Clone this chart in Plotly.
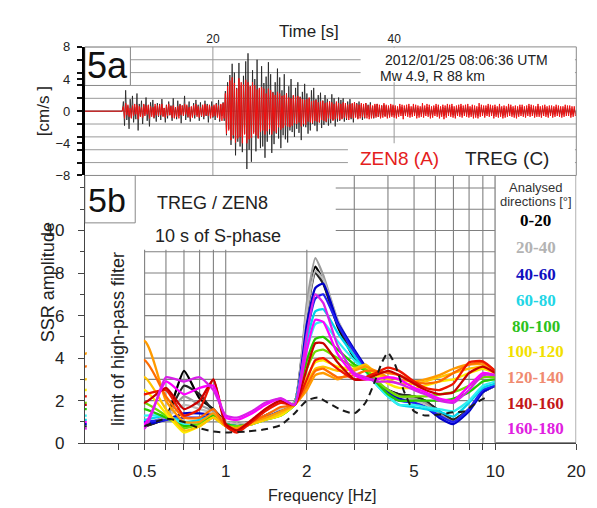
import math
import plotly.graph_objects as go

# ================= DATA =================
# ---- panel 5a : velocity records [cm/s] ----
record_start_s = 5.87
p_onset_s = 10.0
sample_step_s = 0.125

treg_c = [
    0, 1.2, -1.8, 2.6, -1.1, 0.6, -2.2, 1.5, -0.8, 1.9, -1.4, 0.5, -1.0, 2.2, -2.4, 0.9,
    -0.6, 1.3, -1.6, 0.8, -0.4, 1.7, -1.2, 0.7, -1.9, 1.1, -0.5, 1.4, -0.9, 0.6, -1.3, 1.0,
    -0.7, 0.9, -1.1, 1.5, -0.6, 0.4, -1.4, 0.8, -0.9, 1.2, -0.5, 0.7, -1.2, 1.6, -0.8, 0.5,
    -1.0, 1.3, -0.6, 0.9, -1.5, 0.7, -0.4, 1.9, -1.1, 0.6, -0.8, 1.2, -1.3, 0.5, -0.7, 1.0,
    -0.9, 1.4, -0.5, 0.8, -1.2, 1.1, -0.7, 0.6, -1.0, 1.3, -0.6, 0.9, -1.4, 0.7, -0.5, 1.2,
    -0.8, 0.6, -1.1, 1.0, -0.7, 1.4, -1.3, 0.8, -0.6, 1.1, -1.2, 2.5, -3.0, 3.6, -2.2, 4.5,
    -4.2, 5.9, -3.4, 4.8, -5.5, 2.9, -3.8, 6.0, -4.4, 3.2, -5.1, 4.4, -2.8, 6.2, -7.2, 7.2,
    -4.8, 3.1, -6.3, 5.1, -2.6, 4.0, -5.0, 6.4, -3.3, 2.7, -4.6, 5.6, -4.4, 3.5, -5.8, 4.3,
    -3.8, 6.1, -2.9, 4.6, -5.2, 2.4, -4.1, 3.6, -2.8, 5.3, -3.4, 4.2, -4.6, 2.6, -3.0, 4.6,
    -3.5, 2.2, -3.9, 3.1, -2.4, 4.0, -2.6, 1.9, -3.2, 2.9, -2.2, 3.6, -2.7, 1.8, -3.6, 2.4,
    -1.9, 3.4, -2.0, 2.2, -2.8, 1.6, -2.4, 2.6, -1.6, 2.9, -1.8, 1.5, -2.5, 2.0, -1.4, 2.3,
    -2.1, 1.3, -1.7, 2.0, -1.4, 1.5, -1.8, 1.2, -1.5, 2.1, -1.1, 1.6, -1.9, 1.0, -1.3, 1.7,
    -1.2, 1.4, -0.9, 1.6, -1.3, 0.8, -1.1, 1.2, -0.8, 1.5, -1.0, 0.9, -1.4, 1.1, -0.7, 1.0,
    -0.9, 1.2, -0.6, 0.8, -1.1, 0.7, -0.9, 1.0, -0.5, 0.8, -0.7, 1.1, -0.8, 0.6, -0.9, 0.7,
    -0.6, 0.9, -0.7, 0.5, -0.8, 0.7, -0.5, 0.8, -0.6, 0.6, -0.7, 0.5, -0.6, 0.7, -0.5, 0.6,
    -0.5, 0.4, -0.6, 0.3, -0.4, 0.6, -0.3, 0.5, -0.6, 0.4, -0.3, 0.5, -0.4, 0.6, -0.5, 0.3,
    -0.4, 0.6, -0.3, 0.5, -0.6, 0.4, -0.5, 0.3, -0.4, 0.6, -0.5, 0.4, -0.3, 0.5, -0.4, 0.5,
    -0.6, 0.3, -0.5, 0.4, -0.3, 0.6, -0.4, 0.5, -0.6, 0.3, -0.4, 0.5, -0.6, 0.4, -0.5, 0.6,
    -0.3, 0.5, -0.4, 0.6, -0.5, 0.3, -0.6, 0.4, -0.3, 0.5, -0.4, 0.6, -0.5, 0.4, -0.3, 0.5,
    -0.4, 0.6, -0.5, 0.3, -0.4, 0.5, -0.6, 0.4, -0.5, 0.3, -0.6, 0.5, -0.4, 0.5, -0.3, 0.4,
    -0.5, 0.4, -0.3, 0.6, -0.4, 0.5, -0.3, 0.4, -0.6, 0.5, -0.4, 0.3, -0.5, 0.6, -0.4, 0.3,
    -0.6, 0.4, -0.5, 0.3, -0.4, 0.6, -0.3, 0.5, -0.4, 0.3, -0.5, 0.4, -0.6, 0.3, -0.4, 0.5,
    -0.3, 0.5, -0.4, 0.3, -0.5, 0.4, -0.3, 0.6, -0.4, 0.5, -0.3, 0.4, -0.5, 0.3, -0.4, 0.6,
    -0.4, 0.3, -0.5, 0.4, -0.3, 0.5, -0.4, 0.3, -0.5, 0.4, -0.3, 0.4, -0.5, 0.3, -0.4, 0.5,
    -0.3, 0.4, -0.4, 0.3, -0.5, 0.3, -0.4, 0.5, -0.3, 0.4, -0.3, 0.4, -0.5, 0.3, -0.4, 0.3,
    -0.3,
]

zen8_a = [
    0, 0.6, -0.9, 1.0, -0.5, 0.8, -0.7, 0.4, -0.9, 0.7, -0.6, 0.9, -0.4, 0.8, -1.0, 0.6,
    -0.7, 0.5, -0.8, 0.9, -0.6, 0.7, -0.4, 0.8, -0.9, 0.6, -0.7, 0.5, -0.8, 0.9, -0.5, 0.7,
    -0.6, 0.8, -0.5, 0.9, -0.7, 0.4, -0.8, 0.7, -0.6, 0.9, -0.5, 0.6, -0.8, 0.7, -0.9, 0.5,
    -0.7, 0.6, -0.9, 0.8, -0.5, 0.7, -0.6, 0.9, -0.4, 0.8, -0.7, 0.5, -0.9, 0.6, -0.8, 0.7,
    -0.5, 0.9, -0.7, 0.6, -0.8, 0.5, -0.6, 0.8, -0.7, 0.9, -0.5, 0.7, -0.6, 0.8, -0.9, 0.6,
    -0.7, 0.8, -0.6, 0.9, -0.8, 0.7, -1.0, 0.9, -1.2, 1.0, -0.9, 2.2, -2.8, 3.1, -2.4, 3.8,
    -3.6, 4.2, -3.0, 3.5, -3.9, 2.8, -3.4, 4.1, -3.2, 3.6, -4.0, 3.3, -2.9, 3.9, -4.0, 3.6,
    -3.5, 3.1, -3.3, 3.6, -2.8, 3.2, -3.0, 2.7, -3.4, 2.9, -2.6, 3.0, -2.4, 2.8, -2.9, 2.2,
    -2.5, 2.8, -2.2, 2.6, -2.9, 2.3, -2.5, 2.0, -2.7, 2.4, -2.0, 2.2, -2.3, 1.9, -2.1, 2.0,
    -1.8, 2.2, -1.9, 1.7, -2.0, 1.6, -1.8, 2.0, -1.5, 1.8, -1.6, 1.9, -1.4, 1.7, -1.9, 1.5,
    -1.6, 1.4, -1.7, 1.5, -1.3, 1.7, -1.4, 1.2, -1.5, 1.3, -1.2, 1.4, -1.3, 1.1, -1.4, 1.2,
    -1.1, 1.3, -1.2, 1.0, -1.3, 1.1, -0.9, 1.2, -1.0, 1.1, -1.2, 0.9, -1.0, 1.2, -0.9, 1.0,
    -1.1, 0.9, -1.0, 1.1, -0.8, 1.0, -0.9, 0.8, -1.1, 0.9, -0.8, 1.0, -0.9, 1.1, -0.8, 0.9,
    -1.0, 0.8, -0.9, 1.0, -0.7, 0.9, -0.8, 1.0, -0.9, 0.7, -1.0, 0.8, -0.9, 0.7, -0.8, 0.9,
    -0.8, 0.9, -0.7, 0.8, -0.9, 0.7, -0.8, 1.0, -0.7, 0.8, -0.9, 0.7, -0.8, 0.9, -0.7, 0.8,
    -0.8, 0.7, -0.9, 0.6, -0.7, 0.9, -0.6, 0.8, -1.0, 0.7, -0.6, 0.8, -0.7, 0.9, -0.8, 0.6,
    -0.7, 0.9, -0.6, 0.8, -0.9, 0.7, -0.8, 0.6, -0.7, 1.0, -0.8, 0.7, -0.6, 0.9, -0.7, 0.8,
    -0.9, 0.6, -0.8, 0.7, -0.6, 0.9, -0.7, 0.8, -0.9, 0.6, -0.7, 0.8, -1.0, 0.7, -0.8, 0.9,
    -0.6, 0.8, -0.7, 0.9, -0.8, 0.6, -0.9, 0.7, -0.6, 0.8, -0.7, 0.9, -0.8, 0.7, -0.6, 0.8,
    -0.7, 0.9, -0.8, 0.6, -0.7, 0.8, -0.9, 0.7, -0.8, 0.6, -0.9, 1.0, -0.7, 0.8, -0.6, 0.7,
    -0.8, 0.7, -0.6, 0.9, -0.7, 0.8, -0.6, 0.7, -0.9, 0.8, -0.7, 0.6, -0.8, 0.9, -0.7, 0.6,
    -0.9, 0.7, -0.8, 0.6, -0.7, 0.9, -0.6, 0.8, -0.7, 0.6, -0.8, 0.7, -0.9, 0.6, -0.7, 0.8,
    -0.6, 0.8, -0.7, 0.6, -0.8, 0.7, -0.6, 0.9, -0.7, 0.8, -0.6, 0.7, -0.8, 0.6, -0.7, 0.9,
    -0.7, 0.6, -0.8, 0.7, -0.6, 0.8, -0.7, 0.6, -0.8, 0.7, -0.6, 0.7, -0.8, 0.6, -0.7, 0.8,
    -0.6, 0.7, -0.7, 0.6, -0.8, 0.6, -0.7, 0.8, -0.6, 0.7, -0.6, 0.7, -0.8, 0.6, -0.7, 0.6,
    -0.6,
]

time_ticks = [20, 40]
vel_ticks = [-8, -4, 0, 4, 8]

# ---- panel 5b : SSR amplitude per analysed direction ----
freq_hz = [0.3, 0.5, 0.6, 0.7, 0.8, 0.9, 1.0, 1.1, 1.25, 1.4, 1.6, 1.8, 2.0, 2.15,
           2.3, 2.6, 3.0, 3.3, 3.6, 4.0, 4.4, 5.0, 5.5, 6.2, 7.0, 8.0, 9.0, 10.0]

ssr_005 = [0.8, 0.8, 1.2, 3.4, 2.1, 1.6, 1.0, 0.9, 1.0, 1.3, 1.6, 1.9, 6.3, 8.3, 7.6, 5.5, 4.0, 3.4, 2.9, 2.5, 2.3, 2.2, 2.0, 1.5, 1.1, 1.6, 2.4, 2.7]
ssr_015 = [0.8, 0.8, 1.2, 2.7, 2.3, 1.5, 1.0, 0.9, 1.0, 1.3, 1.6, 1.9, 6.1, 8.0, 7.5, 5.6, 4.1, 3.4, 2.9, 2.5, 2.3, 2.2, 2.0, 1.5, 1.1, 1.6, 2.4, 2.7]
ssr_025 = [0.9, 0.9, 1.3, 2.2, 1.8, 1.5, 1.0, 0.9, 1.0, 1.3, 1.6, 1.9, 6.6, 8.7, 7.9, 5.8, 4.2, 3.4, 2.9, 2.5, 2.2, 2.1, 1.9, 1.4, 1.0, 1.6, 2.4, 2.7]
ssr_035 = [0.9, 0.9, 1.2, 1.8, 1.6, 1.4, 1.0, 0.9, 1.0, 1.3, 1.6, 1.9, 6.2, 8.1, 7.7, 5.8, 4.3, 3.5, 2.9, 2.4, 2.1, 2.0, 1.8, 1.3, 0.95, 1.6, 2.4, 2.7]
ssr_045 = [0.9, 0.9, 1.1, 1.4, 1.4, 1.3, 0.9, 0.8, 0.9, 1.2, 1.5, 1.8, 5.6, 7.3, 7.5, 5.7, 4.4, 3.6, 2.9, 2.4, 2.1, 1.9, 1.7, 1.2, 0.9, 1.5, 2.4, 2.7]
ssr_055 = [1.0, 1.0, 1.1, 1.2, 1.2, 1.3, 0.9, 0.8, 0.9, 1.2, 1.5, 1.8, 5.2, 6.8, 7.0, 5.6, 4.3, 3.5, 2.9, 2.3, 2.0, 1.9, 1.7, 1.3, 1.0, 1.6, 2.5, 2.7]
ssr_065 = [1.1, 1.1, 1.3, 1.0, 1.1, 1.3, 0.9, 0.8, 0.9, 1.1, 1.4, 1.8, 4.8, 6.2, 6.3, 5.2, 4.1, 3.4, 2.8, 2.2, 1.8, 1.7, 1.6, 1.5, 1.25, 1.9, 2.6, 2.8]
ssr_075 = [1.3, 1.3, 1.3, 0.9, 1.0, 1.3, 0.9, 0.8, 0.9, 1.1, 1.4, 1.8, 4.4, 5.6, 5.7, 4.8, 3.9, 3.4, 2.8, 2.2, 1.8, 1.8, 1.7, 1.6, 1.5, 2.0, 2.7, 2.9]
ssr_085 = [1.6, 1.6, 1.2, 0.8, 0.9, 1.3, 0.9, 0.8, 0.9, 1.1, 1.3, 1.8, 3.9, 4.9, 5.0, 4.4, 3.7, 3.4, 2.9, 2.3, 2.0, 2.0, 2.0, 2.0, 2.1, 2.4, 2.9, 3.0]
ssr_095 = [1.9, 1.9, 1.3, 0.7, 0.9, 1.2, 0.8, 0.8, 0.9, 1.1, 1.3, 1.8, 3.5, 4.3, 4.4, 4.0, 3.6, 3.5, 3.0, 2.5, 2.2, 2.2, 2.2, 2.3, 2.4, 2.7, 3.1, 3.1]
ssr_105 = [2.5, 2.5, 1.4, 0.5, 0.8, 1.2, 0.8, 0.7, 0.9, 1.1, 1.3, 1.8, 3.1, 3.8, 3.9, 3.6, 3.5, 3.6, 3.2, 2.8, 2.6, 2.6, 2.7, 2.9, 3.0, 3.3, 3.5, 3.3]
ssr_115 = [3.0, 3.1, 1.6, 0.6, 0.8, 1.2, 0.8, 0.7, 0.9, 1.1, 1.4, 1.8, 2.8, 3.5, 3.6, 3.4, 3.5, 3.7, 3.3, 3.0, 2.8, 2.8, 2.9, 3.1, 3.3, 3.5, 3.6, 3.3]
ssr_125 = [4.2, 4.8, 2.0, 1.0, 1.0, 1.4, 0.8, 0.7, 1.0, 1.2, 1.5, 1.8, 2.5, 3.2, 3.3, 3.0, 3.4, 3.6, 3.4, 3.1, 3.0, 2.9, 3.0, 3.2, 3.5, 3.7, 3.7, 3.3]
ssr_135 = [3.6, 3.9, 2.2, 1.2, 1.2, 1.6, 0.8, 0.6, 1.0, 1.3, 1.7, 1.8, 2.7, 3.4, 3.5, 3.1, 3.2, 3.4, 3.4, 3.3, 3.2, 2.9, 2.8, 2.9, 3.3, 3.7, 3.8, 3.4]
ssr_145 = [2.2, 2.3, 2.5, 1.3, 1.6, 3.0, 0.8, 0.5, 1.0, 1.5, 1.9, 1.8, 3.0, 3.9, 4.0, 3.5, 3.0, 3.1, 3.3, 3.55, 3.4, 2.9, 2.6, 2.5, 2.8, 3.8, 3.85, 3.4]
ssr_155 = [1.8, 1.9, 2.6, 1.6, 2.0, 3.0, 0.9, 0.6, 1.1, 1.6, 2.0, 1.8, 3.5, 4.7, 4.7, 3.8, 3.0, 3.0, 3.2, 3.4, 3.2, 2.8, 2.5, 2.3, 2.4, 3.3, 3.6, 3.3]
ssr_165 = [1.0, 0.9, 2.9, 2.3, 2.6, 2.7, 1.2, 1.1, 1.4, 1.8, 2.1, 1.8, 4.4, 5.8, 5.7, 4.2, 3.2, 3.0, 3.0, 3.1, 3.0, 2.6, 2.4, 2.1, 2.0, 2.7, 3.3, 3.2]
ssr_175 = [0.7, 0.7, 3.1, 2.9, 3.1, 2.5, 1.3, 1.2, 1.5, 1.9, 2.1, 1.8, 5.1, 7.0, 6.6, 4.6, 3.3, 3.1, 2.9, 2.9, 2.8, 2.5, 2.3, 2.0, 1.9, 2.5, 3.2, 3.2]

ref_freq_hz = [0.5, 0.6, 0.7, 0.8, 0.9, 1.0, 1.2, 1.4, 1.6, 1.8, 2.0, 2.2, 2.4, 2.7,
               3.0, 3.3, 3.6, 3.8, 4.0, 4.25, 4.6, 5.0, 5.5, 6.2, 7.0, 7.7, 8.5, 9.4]
ref_ssr = [0.8, 1.15, 1.0, 0.7, 0.55, 0.5, 0.55, 0.65, 0.85, 1.4, 2.0, 2.15, 1.9, 1.55,
           1.4, 1.9, 3.0, 3.8, 4.25, 3.7, 2.4, 1.5, 1.3, 1.35, 1.45, 1.5, 1.9, 2.2]

direction_labels = ["0-20", "20-40", "40-60", "60-80", "80-100",
                    "100-120", "120-140", "140-160", "160-180"]
freq_ticks = [0.5, 1, 2, 5, 10, 20]
freq_tick_text = ["0.5", "1", "2", "5", "10", "20"]
freq_minor = [0.4, 0.6, 0.7, 0.8, 0.9, 3, 4, 6, 7, 8, 9]
ssr_ticks = [0, 2, 4, 6, 8, 10]

# ================= STYLE / LAYOUT =================
W, H = 597, 508
FONT = "Liberation Sans, Arial, sans-serif"
SERIF = "Liberation Serif, Times New Roman, serif"

def px(x):
    return x / W

def py(y):
    return 1 - y / H

ssr_series = [ssr_005, ssr_015, ssr_025, ssr_035, ssr_045, ssr_055, ssr_065, ssr_075, ssr_085,
              ssr_095, ssr_105, ssr_115, ssr_125, ssr_135, ssr_145, ssr_155, ssr_165, ssr_175]
line_colors = ["#000000", "#262626", "#9c9c9c", "#bdbdbd", "#0000c8", "#2020f0",
               "#00d4ec", "#30f0f0", "#22c800", "#70dc00", "#ffec00", "#ffc400",
               "#ff9a00", "#ff6c00", "#ee1500", "#c80000", "#ff00ff", "#d820e8"]
label_colors = ["#000000", "#b3b3b3", "#1010c0", "#22d6e6", "#2cc21c",
                "#f2e000", "#f08a70", "#c41818", "#e020e0"]

fig = go.Figure()

# ---- panel 5a traces ----
t_treg = [record_start_s] + [p_onset_s + i * sample_step_s for i in range(len(treg_c))]
t_zen8 = [record_start_s] + [p_onset_s + i * sample_step_s for i in range(len(zen8_a))]
fig.add_trace(go.Scatter(x=t_treg, y=[0] + treg_c, mode="lines",
                         line=dict(color="#1e1e1e", width=0.8),
                         xaxis="x", yaxis="y", hoverinfo="skip"))
fig.add_trace(go.Scatter(x=t_zen8, y=[0] + zen8_a, mode="lines",
                         line=dict(color="#f01010", width=1.0),
                         xaxis="x", yaxis="y", hoverinfo="skip"))

# ---- panel 5b traces ----
for vals, col in zip(ssr_series, line_colors):
    fig.add_trace(go.Scatter(x=freq_hz, y=vals, mode="lines",
                             line=dict(color=col, width=2.3, shape="spline", smoothing=0.5),
                             xaxis="x2", yaxis="y2", hoverinfo="skip"))
fig.add_trace(go.Scatter(x=ref_freq_hz, y=ref_ssr, mode="lines",
                         line=dict(color="#1a1a1a", width=2, dash="7px,5px", shape="spline", smoothing=0.6),
                         xaxis="x2", yaxis="y2", hoverinfo="skip"))

Y_TOP = 12.59
shapes = []
GRID_A = dict(color="#9a9a9a", width=1)
GRID_B = dict(color="#808080", width=1.1)

# grid panel 5a
k = -8 + 1.6
while k < 7.9:
    shapes.append(dict(type="line", xref="x domain", yref="y", x0=0, x1=1, y0=k, y1=k,
                       line=GRID_A, layer="below"))
    k += 1.6
for t in time_ticks:
    shapes.append(dict(type="line", xref="x", yref="y domain", x0=t, x1=t, y0=0, y1=1,
                       line=GRID_A, layer="below"))

# grid panel 5b
for v in range(1, 13):
    shapes.append(dict(type="line", xref="x2", yref="y2", x0=0.5, x1=10, y0=v, y1=v,
                       line=GRID_B, layer="below"))
for f in [0.5, 0.6, 0.7, 0.8, 0.9, 1, 2, 3, 4, 5, 6, 7, 8, 9, 10]:
    shapes.append(dict(type="line", xref="x2", yref="y2 domain", x0=f, x1=f, y0=0, y1=1,
                       line=GRID_B, layer="below"))

WHITE = dict(type="rect", fillcolor="white", line=dict(width=0), layer="above")
# panel 5a white boxes
shapes.append({**WHITE, "xref": "x", "yref": "y", "x0": 36.3, "x1": 59.95, "y0": 3.6, "y1": 7.9})
shapes.append({**WHITE, "xref": "x", "yref": "y", "x0": 34.9, "x1": 59.95, "y0": -7.93, "y1": -4.0})
shapes.append({**WHITE, "xref": "x", "yref": "y", "x0": 5.87, "x1": 10.9, "y0": 3.2, "y1": 8,
               "line": dict(color="#888888", width=1)})
# panel 5b white boxes
shapes.append({**WHITE, "xref": "x2", "yref": "y2", "x0": 0.305, "x1": 0.497, "y0": 0.05, "y1": Y_TOP - 0.03})
shapes.append({**WHITE, "xref": "x2", "yref": "y2", "x0": 0.305, "x1": 2.56, "y0": 9.1, "y1": Y_TOP - 0.03})
shapes.append({**WHITE, "xref": "x2", "yref": "y2", "x0": 10, "x1": 19.95, "y0": 0.03, "y1": Y_TOP,
               "line": dict(color="#888888", width=1)})
shapes.append({**WHITE, "xref": "x2", "yref": "y2", "x0": 0.3, "x1": 0.4615, "y0": 10.36, "y1": Y_TOP,
               "line": dict(color="#888888", width=1)})
# panel 5a frame (top, right, bottom)
FR = dict(color="#8a8a8a", width=1)
shapes.append(dict(type="line", xref="x domain", yref="y domain", x0=0, x1=1, y0=1, y1=1, line=FR, layer="above"))
shapes.append(dict(type="line", xref="x domain", yref="y domain", x0=1, x1=1, y0=0, y1=1, line=FR, layer="above"))
shapes.append(dict(type="line", xref="x domain", yref="y domain", x0=0, x1=1, y0=0, y1=0, line=FR, layer="above"))

ann = []

def text(x, y, s, size, color="#222222", family=FONT, angle=0, xanchor="center"):
    ann.append(dict(xref="paper", yref="paper", x=px(x), y=py(y), text=s, showarrow=False,
                    font=dict(size=size, color=color, family=family), textangle=angle,
                    xanchor=xanchor, yanchor="middle"))

text(306, 17, "Time [s]", 17)
text(36, 99, "[cm/s ]", 17, angle=-90)
text(101, 52, "5a", 36, color="#111111")
text(466, 47, "2012/01/25 08:06:36 UTM", 14, xanchor="center")
text(376, 63, "Mw 4.9, R 88 km", 14, xanchor="left")
text(397, 148, "ZEN8 (A)", 19, color="#e4201c")
text(507, 148, "TREG (C)", 19, color="#222222")
text(101, 191, "5b", 34, color="#111111")
text(208, 194, "TREG / ZEN8", 18)
text(213, 229, "10 s of S-phase", 18)
text(111, 335, "limit of high-pass filter", 18, angle=-90)
text(40, 276, "SSR amplitude", 18, angle=-90)
text(319, 497, "Frequency [Hz]", 16)
text(536, 178, "Analysed", 13, color="#333333")
text(536, 193, "directions [°]", 13, color="#333333")
legend_y = [213, 241, 268, 295, 322, 348, 375, 402, 428]
for lab, col, yy in zip(direction_labels, label_colors, legend_y):
    text(536, yy, "<b>" + lab + "</b>", 17, color=col, family=SERIF)

fig.update_layout(
    width=W, height=H, margin=dict(l=0, r=0, t=0, b=0),
    paper_bgcolor="white", plot_bgcolor="white", showlegend=False,
    font=dict(family=FONT, color="#222222"),
    xaxis=dict(domain=[px(78), px(577)], anchor="y", range=[5.87, 60.1], side="top",
               tickvals=time_ticks, ticks="", tickfont=dict(size=12), showgrid=False,
               zeroline=False, showline=False),
    yaxis=dict(domain=[py(166), py(33)], anchor="x", range=[-8, 8], tickvals=vel_ticks,
               ticks="outside", ticklen=5, tickwidth=1.5, tickcolor="#111111",
               showgrid=False, zeroline=False, showline=True, linewidth=3, linecolor="#000000",
               tickfont=dict(size=13), ticklabelstandoff=4,
               minor=dict(tick0=-8, dtick=1.6, ticks="outside", ticklen=5, tickcolor="#111111",
                          showgrid=False)),
    xaxis2=dict(domain=[px(78), px(577)], anchor="y2", type="log",
                range=[math.log10(0.3), math.log10(20)],
                tickvals=freq_ticks, ticktext=freq_tick_text, ticks="outside", ticklen=6,
                tickcolor="#444444", showgrid=False, zeroline=False, showline=True,
                linecolor="#444444", linewidth=1, tickfont=dict(size=17), ticklabelstandoff=6,
                minor=dict(tickmode="array", tickvals=freq_minor, ticks="outside", ticklen=6,
                           tickcolor="#444444", showgrid=False)),
    yaxis2=dict(domain=[py(443), py(166)], anchor="x2", range=[0, Y_TOP],
                tickvals=ssr_ticks, ticks="outside", ticklen=6, tickcolor="#444444",
                showgrid=False, zeroline=False, showline=True, linecolor="#444444", linewidth=1,
                tickfont=dict(size=17), ticklabelstandoff=10,
                minor=dict(dtick=1, ticks="outside", ticklen=4, tickcolor="#444444", showgrid=False)),
    shapes=shapes, annotations=ann,
)

fig.write_html("out.html")
